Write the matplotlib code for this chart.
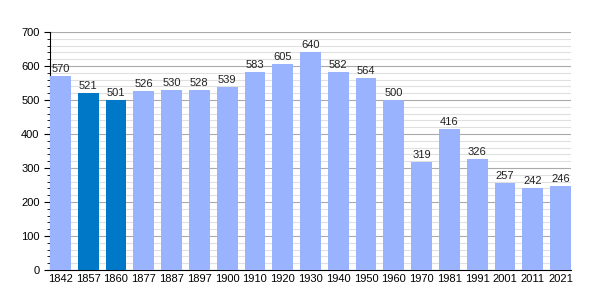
import matplotlib
matplotlib.use("Agg")
import matplotlib.pyplot as plt
import numpy as np
from matplotlib.ticker import MultipleLocator

years = ["1842", "1857", "1860", "1877", "1887", "1897", "1900", "1910", "1920",
         "1930", "1940", "1950", "1960", "1970", "1981", "1991", "2001", "2011", "2021"]
population = [570, 521, 501, 526, 530, 528, 539, 583, 605, 640, 582, 564, 500,
              319, 416, 326, 257, 242, 246]
highlight = ["1857", "1860"]

plt.rcParams['font.family'] = ['Liberation Sans', 'DejaVu Sans']

fig = plt.figure(figsize=(6, 3), dpi=100)
ax = fig.add_axes([50/600, 30/300, 521/600, 238/300])

x = np.arange(len(years))
w = 0.75
colors = ['#0078c8' if y in highlight else '#99b3ff' for y in years]
ax.bar(x, population, width=w, color=colors, zorder=3)

for xi, v in zip(x, population):
    ax.text(xi, v + 6, str(v), ha='center', va='bottom', fontsize=8, color='#222222', zorder=4)

ax.set_xlim(-w/2, len(years) - 1 + w/2)
ax.set_ylim(0, 700)
ax.set_xticks(x)
ax.set_xticklabels(years, fontsize=8)
ax.yaxis.set_major_locator(MultipleLocator(100))
ax.yaxis.set_minor_locator(MultipleLocator(20))
ax.tick_params(axis='y', labelsize=8, length=4, direction='out')
ax.tick_params(axis='y', which='minor', length=2)
ax.tick_params(axis='x', length=0, pad=3)

ax.grid(axis='y', which='major', color='#aaaaaa', linewidth=0.8, zorder=0)
ax.grid(axis='y', which='minor', color='#e0e0e0', linewidth=0.8, zorder=0)
ax.spines['top'].set_visible(False)
ax.spines['right'].set_visible(False)

fig.savefig("out.png", dpi=100)
